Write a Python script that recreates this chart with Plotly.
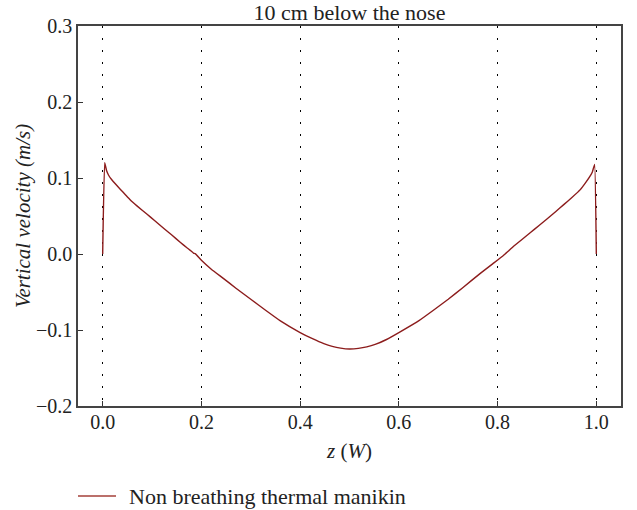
import plotly.graph_objects as go

# Position along the width z (W) and vertical velocity (m/s)
z_left = [0.0, 0.004, 0.008, 0.012, 0.018, 0.026, 0.036, 0.046, 0.056, 0.070,
          0.090, 0.105, 0.124, 0.140, 0.157, 0.170, 0.178, 0.184, 0.188, 0.200,
          0.220, 0.245, 0.270, 0.300, 0.330, 0.360, 0.400, 0.425, 0.448, 0.465,
          0.482, 0.500]
v_left = [0.0, 0.1200, 0.1095, 0.1036, 0.0980, 0.0920, 0.0850, 0.0780, 0.0710, 0.0630,
          0.0523, 0.0440, 0.0336, 0.0250, 0.0155, 0.0085, 0.0045, 0.0012, 0.0002, -0.0083,
          -0.0200, -0.0324, -0.0450, -0.0595, -0.0740, -0.0880, -0.1034, -0.1115, -0.1180, -0.1215,
          -0.1238, -0.1250]
z_right = [0.518, 0.535, 0.552, 0.575, 0.600, 0.640, 0.670, 0.700, 0.730, 0.765,
           0.790, 0.810, 0.816, 0.822, 0.833, 0.850, 0.866, 0.884, 0.900, 0.918,
           0.934, 0.950, 0.968, 0.978, 0.986, 0.992, 0.9966, 1.0]
v_right = [-0.1242, -0.1222, -0.1190, -0.1125, -0.1034, -0.0880, -0.0740, -0.0595, -0.0440, -0.0255,
           -0.0130, -0.0030, 0.0005, 0.0040, 0.0105, 0.0195, 0.0280, 0.0375, 0.0460, 0.0560,
           0.0650, 0.0740, 0.0850, 0.0935, 0.1010, 0.1080, 0.1180, 0.0]

x_ticks = [0.0, 0.2, 0.4, 0.6, 0.8, 1.0]
y_ticks = [-0.2, -0.1, 0.0, 0.1, 0.2, 0.3]

series_name = "Non breathing thermal manikin"
title_text = "10 cm below the nose"

FONT = "Liberation Serif, DejaVu Serif, serif"
TXT = "#222"
LINE_COLOR = "#8c1c1c"

W, H = 637, 510
ML, MR, MT, MB = 78, 16, 26, 104
PW, PH = W - ML - MR, H - MT - MB


def px_x(px):
    return (px - ML) / PW


def px_y(py):
    return (H - MB - py) / PH


fig = go.Figure()
fig.add_trace(go.Scatter(
    x=z_left + z_right, y=v_left + v_right, mode="lines",
    line=dict(color=LINE_COLOR, width=1.4, shape="spline", smoothing=0.3),
    name=series_name, showlegend=False,
))

# legend drawn below the plot (sample line + label)
fig.add_shape(type="line", xref="paper", yref="paper",
              x0=px_x(78), x1=px_x(116), y0=px_y(496), y1=px_y(496),
              line=dict(color="#a5403a", width=1.4))
fig.add_annotation(text=series_name, xref="paper", yref="paper",
                   x=px_x(127), y=px_y(496), xanchor="left", yanchor="middle",
                   showarrow=False, font=dict(family=FONT, size=22, color=TXT))

fig.update_layout(
    width=W, height=H,
    margin=dict(l=ML, r=MR, t=MT, b=MB),
    paper_bgcolor="white", plot_bgcolor="white",
    font=dict(family=FONT, size=20, color=TXT),
    title=dict(text=title_text, x=(78 + 621) / 2 / W, xanchor="center",
               y=1 - 12 / H, yanchor="middle",
               font=dict(family=FONT, size=22, color=TXT)),
    showlegend=False,
)

fig.update_xaxes(
    range=[-0.05, 1.05], tickvals=x_ticks, tickformat=".1f",
    ticks="inside", ticklen=5, tickwidth=1, tickcolor="#333",
    showline=True, linecolor="#444", linewidth=1.5, mirror=True,
    showgrid=True, gridcolor="#000", gridwidth=1.3, griddash="2px,10px",
    zeroline=False, automargin=False, ticklabelstandoff=-3,
    title=dict(text="<i>z</i> (<i>W</i>)", font=dict(family=FONT, size=21, color=TXT),
               standoff=12),
    tickfont=dict(family=FONT, size=20, color=TXT),
)
fig.update_yaxes(
    range=[-0.2, 0.3], tickvals=y_ticks, tickformat=".1f",
    ticks="inside", ticklen=5, tickwidth=1, tickcolor="#333",
    showline=True, linecolor="#444", linewidth=1.5, mirror=True,
    showgrid=False, zeroline=False, automargin=False,
    title=dict(text="<i>Vertical velocity (m/s)</i>", font=dict(family=FONT, size=21, color=TXT),
               standoff=0),
    tickfont=dict(family=FONT, size=20, color=TXT),
)

fig.write_html("out.html",
               config={"displayModeBar": False},
               post_script="document.body.style.margin='0';document.body.style.overflow='hidden';")
